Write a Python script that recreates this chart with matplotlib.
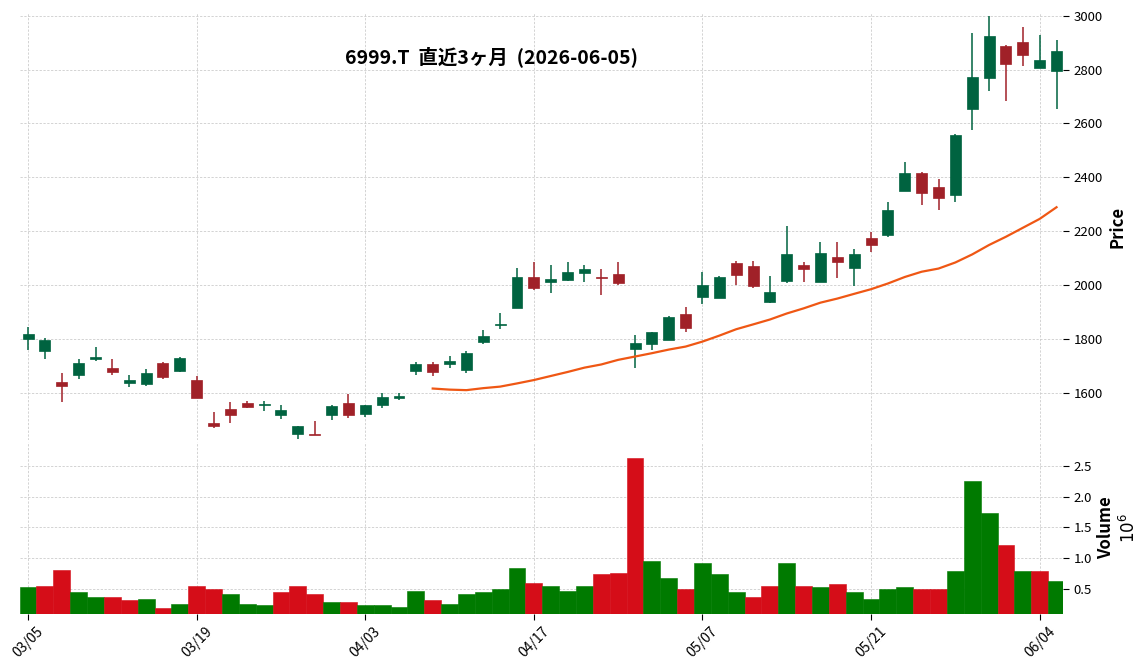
"""6999.T candlestick chart with 25-day moving average and volume (charles-style colours)."""

import matplotlib.pyplot as plt
import numpy as np
import pandas as pd

plt.rcParams['font.family'] = ['Noto Sans CJK JP', 'DejaVu Sans']

TITLE = "6999.T  直近3ヶ月  (2026-06-05)"

# trading days 2026-03-05 .. 2026-06-05 (TSE holidays removed)
HOLIDAYS = ["2026-03-20", "2026-04-29", "2026-05-04", "2026-05-05", "2026-05-06"]
DATES = pd.bdate_range("2026-03-05", "2026-06-05", freq="C", holidays=HOLIDAYS)

OPEN = [1799, 1754, 1641, 1665, 1724, 1693, 1638, 1631, 1709, 1680,
        1648, 1488, 1540, 1563, 1554, 1519, 1449, 1449, 1519, 1563,
        1523, 1553, 1579, 1680, 1708, 1706, 1684, 1787, 1850, 1916,
        2030, 2012, 2018, 2046, 2031, 2041, 1761, 1783, 1797, 1893,
        1957, 1952, 2081, 2070, 1937, 2016, 2074, 2012, 2104, 2064,
        2174, 2185, 2349, 2415, 2363, 2335, 2654, 2769, 2886, 2901,
        2807, 2795]
HIGH = [1845, 1804, 1673, 1725, 1770, 1725, 1666, 1688, 1713, 1734,
        1661, 1528, 1565, 1569, 1570, 1554, 1477, 1494, 1554, 1595,
        1555, 1599, 1599, 1713, 1716, 1737, 1756, 1833, 1898, 2062,
        2084, 2073, 2087, 2073, 2058, 2087, 1814, 1826, 1886, 1918,
        2049, 2033, 2091, 2091, 2033, 2221, 2087, 2159, 2158, 2132,
        2198, 2310, 2455, 2420, 2392, 2562, 2937, 3000, 2892, 2959,
        2927, 2911]
LOW = [1759, 1725, 1565, 1651, 1718, 1666, 1621, 1627, 1650, 1676,
       1579, 1468, 1487, 1545, 1532, 1502, 1427, 1445, 1498, 1508,
       1512, 1545, 1573, 1666, 1663, 1692, 1674, 1781, 1838, 1916,
       1982, 1969, 2015, 2012, 1962, 2001, 1692, 1759, 1797, 1825,
       1929, 1951, 2002, 1988, 1935, 2006, 2012, 2012, 2025, 1996,
       2121, 2177, 2349, 2299, 2277, 2307, 2575, 2719, 2682, 2812,
       2807, 2653]
CLOSE = [1820, 1797, 1627, 1712, 1734, 1676, 1648, 1674, 1657, 1730,
         1579, 1478, 1516, 1548, 1559, 1537, 1477, 1445, 1552, 1519,
         1555, 1585, 1589, 1708, 1676, 1719, 1749, 1812, 1854, 2030,
         1990, 2023, 2048, 2059, 2025, 2007, 1786, 1826, 1882, 1839,
         2000, 2030, 2038, 1998, 1974, 2115, 2061, 2119, 2087, 2115,
         2150, 2278, 2415, 2342, 2324, 2556, 2771, 2923, 2822, 2855,
         2834, 2868]
# volume in millions of shares
VOLUME = [0.53, 0.56, 0.82, 0.46, 0.37, 0.38, 0.32, 0.35, 0.20, 0.27,
          0.56, 0.50, 0.42, 0.27, 0.25, 0.45, 0.56, 0.42, 0.30, 0.29,
          0.24, 0.25, 0.22, 0.48, 0.32, 0.27, 0.42, 0.45, 0.50, 0.85,
          0.61, 0.56, 0.48, 0.55, 0.74, 0.77, 2.62, 0.95, 0.69, 0.51,
          0.92, 0.74, 0.45, 0.38, 0.55, 0.93, 0.56, 0.53, 0.58, 0.46,
          0.35, 0.50, 0.53, 0.51, 0.50, 0.80, 2.25, 1.73, 1.21, 0.79,
          0.80, 0.64]
MAV = 25

UP, DOWN = "#006340", "#a02128"
VOL_UP, VOL_DOWN = "#007a00", "#d50d18"
MA_COLOR = "#ef5714"
GRID = dict(color="#c8c8c8", linestyle=(0, (3, 2)), linewidth=0.55)

opens = np.array(OPEN, float)
closes = np.array(CLOSE, float)
x = np.arange(len(DATES))

candle_colors = np.where(closes >= opens, UP, DOWN)
prev_close = np.r_[closes[0], closes[:-1]]
vol_colors = np.where(closes >= prev_close, VOL_UP, VOL_DOWN)
ma = pd.Series(closes).rolling(MAV).mean()

fig = plt.figure(figsize=(11.48, 6.71), dpi=100)
ax_p = fig.add_axes([0.0174, 0.3443, 0.9085, 0.6364])
ax_v = fig.add_axes([0.0174, 0.0849, 0.9085, 0.2563], sharex=ax_p)

ax_p.vlines(x, LOW, HIGH, colors=candle_colors, linewidth=1.1, zorder=2)
ax_p.bar(x, closes - opens, bottom=opens, width=0.65, color=candle_colors,
         edgecolor=candle_colors, linewidth=0.5, zorder=3)
ax_p.plot(x, ma, color=MA_COLOR, linewidth=1.6, zorder=4)

ax_v.bar(x, VOLUME, width=1.0, color=vol_colors, edgecolor=list(vol_colors),
         linewidth=0.4)

ax_p.set_xlim(-0.48, 61.38)
ax_p.set_ylim(1425, 3010)
ax_v.set_ylim(0.5 * min(VOLUME), 1.1 * max(VOLUME))

tick_idx = list(range(0, len(x), 10))
ax_v.set_xticks(tick_idx)
ax_v.set_xticklabels([DATES[i].strftime("%m/%d") for i in tick_idx], rotation=45, fontsize=10)
ax_p.tick_params(axis="x", which="both", length=0, labelbottom=False)
ax_v.tick_params(axis="x", length=4, width=0.8)

ax_p.set_yticks(range(1600, 3001, 200))
ax_v.set_yticks([0.5, 1.0, 1.5, 2.0, 2.5])
for ax in (ax_p, ax_v):
    ax.yaxis.tick_right()
    ax.yaxis.set_label_position("right")
    ax.tick_params(axis="y", length=4, width=0.8, labelsize=9.5)
    ax.grid(True, **GRID)
    ax.set_axisbelow(True)
    for s in ax.spines.values():
        s.set_visible(False)

ax_p.set_ylabel("Price", fontsize=12, fontweight="bold")
ax_v.set_ylabel("Volume\n$10^{6}$", fontsize=12, fontweight="bold")

fig.text(0.428, 0.915, TITLE, ha="center", va="center", fontsize=14, fontweight="bold")

fig.savefig("out.png", dpi=100)
